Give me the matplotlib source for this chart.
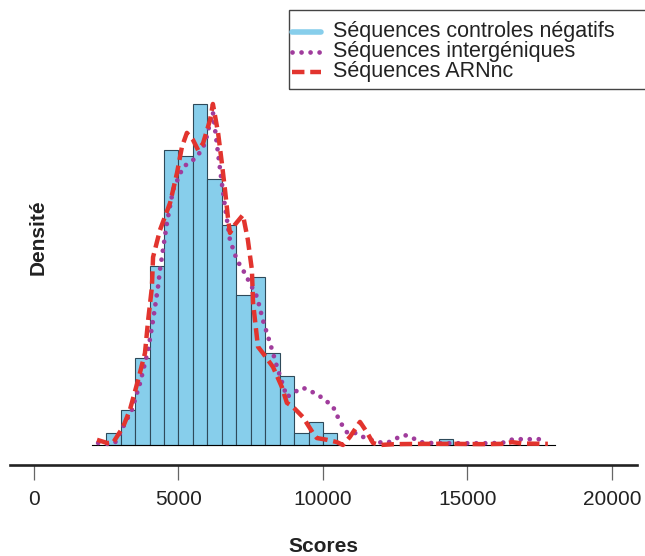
import numpy as np
import matplotlib
matplotlib.use("Agg")
import matplotlib.pyplot as plt
from matplotlib.lines import Line2D
from matplotlib.patches import Rectangle

plt.rcParams['font.family'] = ['Liberation Sans', 'DejaVu Sans']

# histogram of the negative control sequences (bins of 500)
bin_left = [2500, 3000, 3500, 4000, 4500, 5000, 5500, 6000, 6500, 7000,
            7500, 8000, 8500, 9000, 9500, 10000, 14000]
counts = [2, 6, 15, 31, 51, 50, 59, 46, 38, 26, 29, 16, 12, 2, 4, 2, 1]
bin_width = 500

# density curves, read on the histogram count scale
red_x = [2180, 2530, 2730, 3080, 3320, 3600, 3840, 3950, 4080, 4120,
         4360, 4710, 4950, 5120, 5290, 5500, 5680, 5850, 6090, 6190,
         6370, 6500, 6610, 6710, 6780, 6950, 7230, 7400, 7540, 7580,
         7750, 7920, 8270, 8580, 8750, 8960, 9310, 9650, 9790, 10140,
         10480, 10690, 10930, 11280, 11520, 11730, 11970, 12500, 13500, 14500,
         15500, 16200, 16540, 16900, 17780]
red_y = [0.9, 0.35, 0.35, 3.1, 6.1, 11.2, 15.9, 21.6, 27.3, 32.5,
         37.2, 41.9, 47.1, 51.6, 54.0, 52.8, 51.0, 52.2, 56.2, 59.0,
         54.0, 48.8, 44.1, 39.4, 36.7, 38.1, 39.8, 35.5, 30.3, 24.6,
         17.0, 15.9, 13.5, 10.0, 7.3, 6.6, 4.8, 2.1, 1.2, 0.9,
         0.5, 0.0, 1.4, 4.0, 2.2, 0.35, 0.0, 0.15, 0.2, 0.2,
         0.15, 0.2, 0.5, 0.25, 0.2]

purp_x = [2220, 2530, 2800, 3390, 3670, 3950, 4120, 4290, 4360, 4600,
          4810, 5160, 5640, 5920, 6090, 6190, 6330, 6500, 6610, 6780,
          7020, 7230, 7720, 7920, 8170, 8410, 8750, 9030, 9310, 9620,
          10000, 10350, 10590, 10830, 11000, 11280, 11870, 12220, 12560, 12840,
          13110, 13360, 13700, 14500, 15500, 16200, 16470, 16640, 17000, 17400,
          17750]
purp_y = [0.35, 0.2, 0.35, 6.1, 10.7, 16.4, 21.6, 27.3, 30.3, 38.4,
          44.1, 48.1, 49.8, 52.2, 55.7, 57.6, 52.0, 45.3, 41.2, 35.5,
          32.0, 30.3, 25.6, 21.6, 17.6, 13.5, 8.3, 9.2, 9.9, 9.2,
          8.1, 6.6, 4.0, 2.2, 2.4, 1.6, 0.5, 0.35, 1.2, 1.7,
          1.2, 0.5, 0.35, 0.3, 0.3, 0.35, 0.87, 1.0, 1.0, 1.0,
          1.0]

xticks = [0, 5000, 10000, 15000, 20000]
legend_labels = ['Séquences controles négatifs', 'Séquences intergéniques',
                 'Séquences ARNnc']

W, H = 645, 556
scale = 1.0 / (sum(counts) * bin_width)   # counts -> density

def fx(px):
    return px / W

def fy(py):
    return 1 - py / H

purple = '#a03c9c'
red = '#e2342e'
blue = '#87ceeb'
dotted = (0, (0.01, 1.9))
dashed = (0, (2.8, 1.3))

fig = plt.figure(figsize=(W / 100, H / 100), dpi=100)
ax = fig.add_axes([fx(10), fy(465), fx(637) - fx(10), fy(5) - fy(465)])

ax.bar(bin_left, np.array(counts) * scale, width=bin_width, align='edge',
       color=blue, edgecolor='#2e4a5a', linewidth=0.8, zorder=2)
ax.plot([2000, 18030], [0, 0], color='black', lw=0.8, zorder=3)

ax.plot(purp_x, np.array(purp_y) * scale, color=purple, lw=3.4,
        linestyle=dotted, dash_capstyle='round', zorder=4)
ax.plot(red_x, np.array(red_y) * scale, color=red, lw=3.2,
        linestyle=dashed, zorder=5)

# 28.9 px per 1000 units, 0 at px 34 ; 5.78 px per count, 0 at px 445
ax.set_xlim(-830, 20865)
ax.set_ylim(-20 / 5.78 * scale, 440 / 5.78 * scale)

for s in ['top', 'right', 'left']:
    ax.spines[s].set_visible(False)
ax.spines['bottom'].set_linewidth(1.9)
ax.spines['bottom'].set_color('#222222')
ax.set_yticks([])
ax.set_xticks(xticks)
ax.set_xticklabels([str(t) for t in xticks], fontsize=15, color='#222222')
ax.tick_params(axis='x', length=11, width=0.9, color='#666666', pad=7)
ax.patch.set_alpha(0)

fig.text(fx(323), fy(547), 'Scores', ha='center', va='center',
         fontsize=15, fontweight='bold', color='#222222')
fig.text(fx(38), fy(237), 'Densité', ha='center', va='center', rotation=90,
         fontsize=15, fontweight='bold', color='#222222')

# legend box
fig.add_artist(Rectangle((fx(289), fy(89)), fx(700) - fx(289), fy(10) - fy(89),
                         transform=fig.transFigure, fill=False,
                         edgecolor='#444444', lw=1.0))
rows = [32, 52, 72]
styles = [dict(color=blue, lw=4.0, solid_capstyle='round'),
          dict(color=purple, lw=3.4, linestyle=dotted, dash_capstyle='round'),
          dict(color=red, lw=3.2, linestyle=dashed)]
for yrow, lab, st in zip(rows, legend_labels, styles):
    fig.add_artist(Line2D([fx(292), fx(321)], [fy(yrow), fy(yrow)],
                          transform=fig.transFigure, **st))
    fig.text(fx(333), fy(yrow), lab, ha='left', va='center', fontsize=15.5,
             color='#222222')

fig.savefig('out.png', dpi=100)
